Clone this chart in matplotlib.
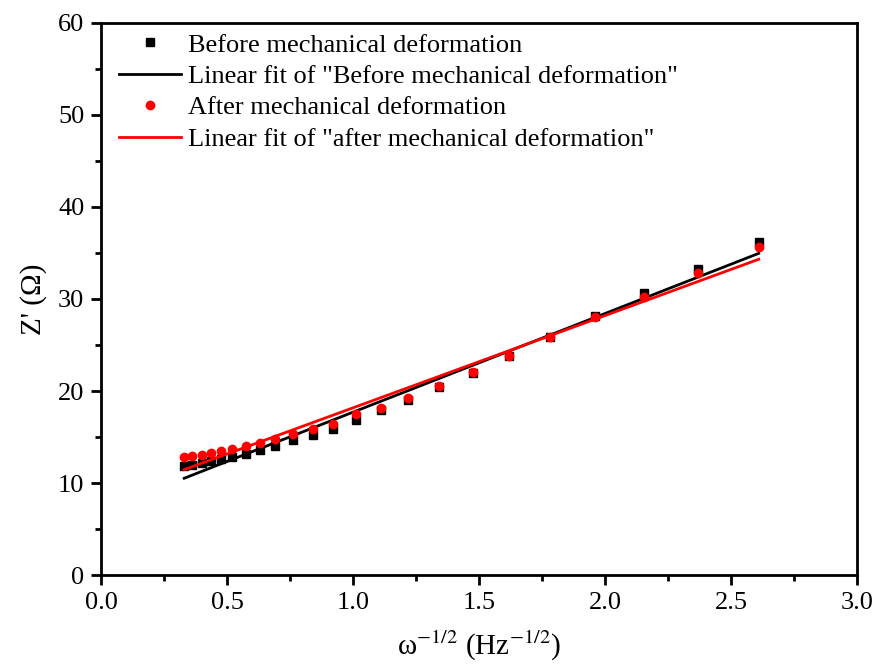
import numpy as np
import matplotlib
matplotlib.use("Agg")
import matplotlib.pyplot as plt
from matplotlib.ticker import MultipleLocator, FormatStrFormatter

plt.rcParams['font.family'] = ['Liberation Serif', 'DejaVu Serif']
plt.rcParams['mathtext.fontset'] = 'stix'

# omega^-1/2 values (Hz^-1/2)
x = [0.33, 0.36, 0.40, 0.435, 0.475, 0.52, 0.575, 0.63, 0.69, 0.76, 0.84, 0.92,
     1.01, 1.11, 1.22, 1.34, 1.475, 1.62, 1.78, 1.96, 2.155, 2.37, 2.61]
# Z' before deformation (ohm)
z_before = [11.85, 12.0, 12.2, 12.4, 12.6, 12.85, 13.2, 13.6, 14.05, 14.65, 15.2, 15.9,
            16.9, 17.9, 19.0, 20.45, 22.0, 23.8, 25.9, 28.15, 30.7, 33.3, 36.2]
# Z' after deformation (ohm)
z_after = [12.8, 12.9, 13.05, 13.25, 13.45, 13.7, 14.0, 14.4, 14.75, 15.3, 15.9, 16.4,
           17.45, 18.15, 19.25, 20.5, 22.1, 23.85, 25.85, 28.0, 30.25, 32.85, 35.7]

labels = ['Before mechanical deformation',
          'Linear fit of "Before mechanical deformation"',
          'After mechanical deformation',
          'Linear fit of "after mechanical deformation"']

x = np.array(x)
fit_b = np.polyfit(x, z_before, 1)
fit_a = np.polyfit(x, z_after, 1)

fig = plt.figure(figsize=(8.79, 6.68), dpi=100)
ax = fig.add_axes([0.1149, 0.1392, 0.975 - 0.1149, 0.9656 - 0.1392])

ax.plot(x, z_before, 's', color='black', ms=6, label=labels[0])
ax.plot(x, np.polyval(fit_b, x), '-', color='black', lw=2, label=labels[1])
ax.plot(x, z_after, 'o', color='red', ms=6, label=labels[2])
ax.plot(x, np.polyval(fit_a, x), '-', color='red', lw=2, label=labels[3])

ax.set_xlim(0, 3.0)
ax.set_ylim(0, 60)
ax.xaxis.set_major_locator(MultipleLocator(0.5))
ax.xaxis.set_minor_locator(MultipleLocator(0.25))
ax.yaxis.set_major_locator(MultipleLocator(10))
ax.yaxis.set_minor_locator(MultipleLocator(5))
ax.xaxis.set_major_formatter(FormatStrFormatter('%.1f'))

for s in ax.spines.values():
    s.set_linewidth(2)
ax.tick_params(which='major', direction='out', length=7, width=2, labelsize=19, pad=5)
ax.tick_params(which='minor', direction='out', length=4, width=2)

ax.set_xlabel('ω$^{-1/2}$ (Hz$^{-1/2}$)', fontsize=21, labelpad=11)
ax.set_ylabel("Z' (Ω)", fontsize=21, labelpad=8)

ax.legend(loc='upper left', bbox_to_anchor=(0.008, 1.003), frameon=False, fontsize=19,
          handlelength=2.35, labelspacing=0.3, borderaxespad=0.05, handletextpad=0.25)

fig.savefig('out.png', dpi=100)
